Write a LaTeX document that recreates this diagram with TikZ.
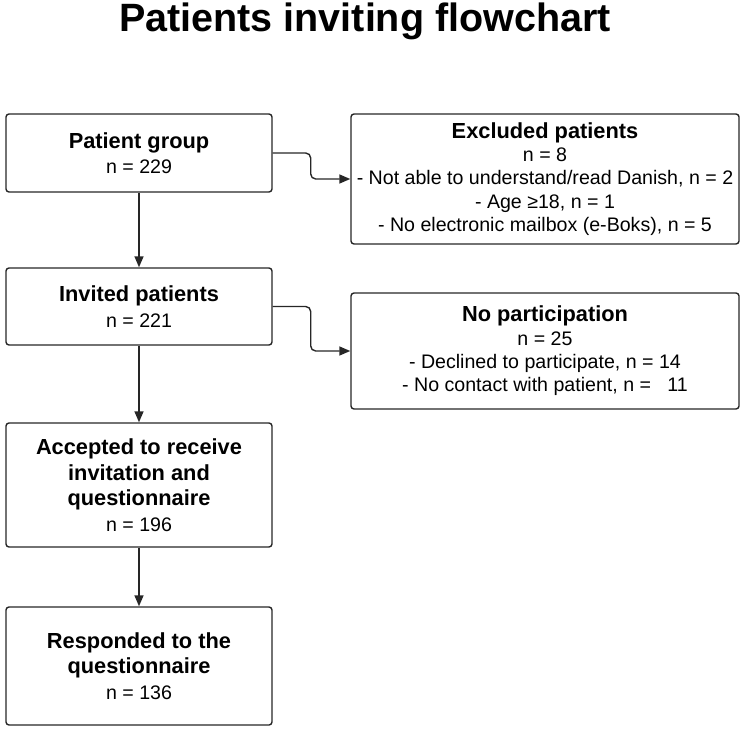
\documentclass[tikz,border=0pt]{standalone}
\usepackage{fontspec}
\setmainfont{Liberation Sans}
\usetikzlibrary{arrows.meta}
\begin{document}
\begin{tikzpicture}[x=1pt,y=-1pt,
  box/.style={draw=black!85, line width=1.4pt, rounded corners=3pt, align=center,
    minimum width=266pt, inner sep=0pt, font=\fontsize{19.6}{25.5}\selectfont},
  sidebox/.style={box, minimum width=388pt, font=\fontsize{19.6}{23.3}\selectfont},
  arr/.style={draw=black!85, line width=1.4pt, -{Triangle[length=11pt,width=9pt]}}]
\newcommand{\hdtext}[1]{{\fontsize{21.8}{25.5}\selectfont\bfseries #1}}
\newcommand{\sdtext}[1]{{\fontsize{21.8}{23.3}\selectfont\bfseries #1}}
\useasboundingbox (0,0) rectangle (744,730);
\node[font=\fontsize{39.5}{42}\selectfont\bfseries, anchor=base] (title) at (365,32) {Patients inviting flowchart};
\node[box, minimum height=78pt] (b1) at (139,153) {\hdtext{Patient group}\\n = 229};
\node[box, minimum height=77pt] (b2) at (139,306.5) {\hdtext{Invited patients}\\n = 221};
\node[box, minimum height=124pt] (b3) at (139,485) {\hdtext{Accepted to receive}\\\hdtext{invitation and}\\\hdtext{questionnaire}\\n = 196};
\node[box, minimum height=118pt] (b4) at (139,666) {\hdtext{Responded to the}\\\hdtext{questionnaire}\\n = 136};
\node[sidebox, minimum height=130pt] (ex) at (545,179) {\sdtext{Excluded patients}\\n = 8\\- Not able to understand/read Danish, n = 2\\- Age ≥18, n = 1\\- No electronic mailbox (e-Boks), n = 5};
\node[sidebox, minimum height=116pt] (np) at (545,351) {\sdtext{No participation}\\n = 25\\- Declined to participate, n = 14\\- No contact with patient, n = \ \ 11};
\draw[arr] (b1) -- (b2);
\draw[arr] (b2) -- (b3);
\draw[arr] (b3) -- (b4);
\draw[arr, rounded corners=5pt] (b1.east) -- ++(38,0) |- (ex.west);
\draw[arr, rounded corners=5pt] (b2.east) -- ++(38,0) |- (np.west);
\end{tikzpicture}
\end{document}
